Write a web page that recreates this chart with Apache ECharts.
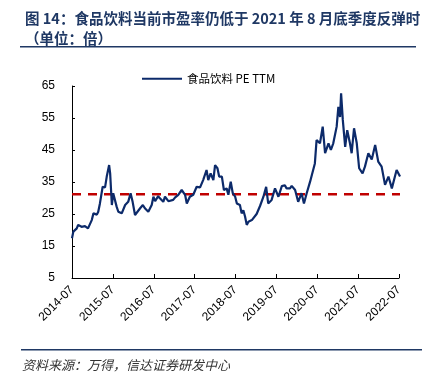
<!DOCTYPE html>
<html>
<head>
<meta charset="utf-8">
<script src="https://cdn.jsdelivr.net/npm/echarts@6/dist/echarts.min.js"></script>
<style>html,body{margin:0;padding:0;background:#fff}#c{width:433px;height:384px}</style>
</head>
<body>
<div id="c"></div>
<script>
// months since 2014-07
const months = [0,0.4,1.4,1.8,2.8,3.8,4.7,5.8,6.3,7.3,7.7,8.2,9.0,9.7,10.2,10.9,11.2,11.7,12.1,12.6,13.1,13.6,14.6,15.6,16.5,17.2,17.8,18.5,19.0,20.0,20.8,21.4,22.4,23.4,23.9,24.4,24.9,25.3,25.8,26.3,26.8,27.3,27.8,28.3,28.8,29.7,30.3,30.7,31.2,32.2,33.2,33.7,34.6,35.6,36.6,37.6,38.5,39.5,40.0,40.7,41.5,42.0,42.7,43.2,44.0,44.6,45.4,45.9,46.6,47.2,47.9,48.4,49.3,49.8,50.3,50.8,51.3,51.8,52.8,53.2,54.2,55.2,56.2,57.0,57.6,58.6,59.6,60.6,61.6,62.5,63.0,63.5,64.0,64.5,65.0,65.5,66.4,67.4,68.1,68.9,69.9,70.8,71.3,71.8,72.8,73.6,74.3,75.3,76.0,76.7,77.7,78.2,78.7,79.0,79.5,80.2,80.8,81.6,82.1,82.8,83.6,84.3,85.3,86.0,87.0,88.0,89.0,89.9,90.9,91.9,92.9,93.9,94.8,95.3,96.3];
const peValues = [17.4,19.5,20.5,21.6,21.0,21.2,20.5,23.1,25.2,24.8,25.7,28.3,33.5,33.3,36.7,40.3,37.7,27.8,31.5,32.0,27.3,25.7,25.2,27.8,28.8,31.5,28.8,24.7,25.2,26.8,27.8,26.8,25.7,27.8,30.4,29.0,29.4,30.6,29.9,29.3,28.8,30.4,29.9,29.0,28.8,29.4,30.2,29.6,31.0,32.5,31.0,28.3,30.4,31.0,33.5,33.3,35.6,38.75,35.6,37.7,35.6,40.3,39.3,36.7,36.7,32.5,33.0,31.0,35.1,31.5,30.4,28.3,27.8,25.2,26.2,24.2,21.6,22.6,23.1,22.6,25.0,27.5,30.4,33.5,28.3,29.4,33.0,30.4,33.7,34.0,33.0,32.8,33.0,33.8,33.3,32.5,28.8,31.5,28.3,31.5,35.1,38.75,40.8,48.1,47.1,52.3,44.0,47.1,45.0,47.1,52.3,58.5,55.3,62.7,54.4,46.0,51.2,47.1,44.0,51.8,47.1,39.3,37.7,39.8,44.0,42.0,46.6,41.4,39.8,34.1,36.7,33.0,36.7,38.75,36.7];
const refLevel = 31.2;
const tickLabels = ['2014-07','2015-07','2016-07','2017-07','2018-07','2019-07','2020-07','2021-07','2022-07'];
const yTicks = [5,15,25,35,45,55,65];

const chart = echarts.init(document.getElementById('c'));
chart.setOption({
  animation: false,
  title: {
    text: '图 14：食品饮料当前市盈率仍低于 2021 年 8 月底季度反弹时\n（单位：倍）',
    left: 20, top: 3,
    textStyle: {fontSize: 14.5, fontWeight: 'bold', color: '#1f3864', lineHeight: 20, fontFamily: 'Noto Sans CJK SC'}
  },
  legend: {
    data: ['食品饮料 PE TTM'],
    left: 137, top: 68,
    itemWidth: 40, itemHeight: 2, icon: 'rect',
    textStyle: {fontSize: 11.5, color: '#000', fontFamily: 'Noto Sans CJK SC'}
  },
  grid: {left: 72, right: 34, top: 86, bottom: 106, containLabel: false},
  xAxis: {
    type: 'value', min: 0, max: 96, interval: 12,
    axisLine: {lineStyle: {color: '#000', width: 1}},
    axisTick: {inside: true, length: 4, lineStyle: {color: '#000'}},
    splitLine: {show: false},
    axisLabel: {rotate: 45, margin: 10, fontSize: 12, color: '#000', fontFamily: 'Liberation Sans',
      formatter: v => tickLabels[Math.round(v / 12)] || ''}
  },
  yAxis: {
    type: 'value', min: yTicks[0], max: yTicks[yTicks.length - 1], interval: 10,
    axisLine: {show: true, lineStyle: {color: '#000', width: 1}},
    axisTick: {show: true, inside: true, length: 3, lineStyle: {color: '#000'}},
    splitLine: {show: false},
    axisLabel: {margin: 17, fontSize: 12, color: '#000', fontFamily: 'Liberation Sans'}
  },
  series: [
    {
      name: '食品饮料 PE TTM', type: 'line', showSymbol: false, symbol: 'none',
      data: months.map((m, i) => [m, peValues[i]]),
      lineStyle: {color: '#0c2a6a', width: 2.2}, itemStyle: {color: '#0c2a6a'}, z: 3
    },
    {
      name: 'ref', type: 'line', showSymbol: false, symbol: 'none',
      data: [[0, refLevel], [96.3, refLevel]],
      lineStyle: {color: '#c00000', width: 2.5, type: [9, 7]}, z: 2
    }
  ],
  graphic: [
    {type: 'rect', shape: {x: 20, y: 46, width: 396, height: 1.5}, style: {fill: '#1f3864'}},
    {type: 'rect', shape: {x: 21, y: 349, width: 401, height: 1.5}, style: {fill: '#1f3864'}},
    {type: 'text', left: 22, top: 359, style: {text: '资料来源：万得，信达证券研发中心', font: 'italic 13px "Noto Sans CJK SC"', fill: '#333'}}
  ]
});
</script>
</body>
</html>
